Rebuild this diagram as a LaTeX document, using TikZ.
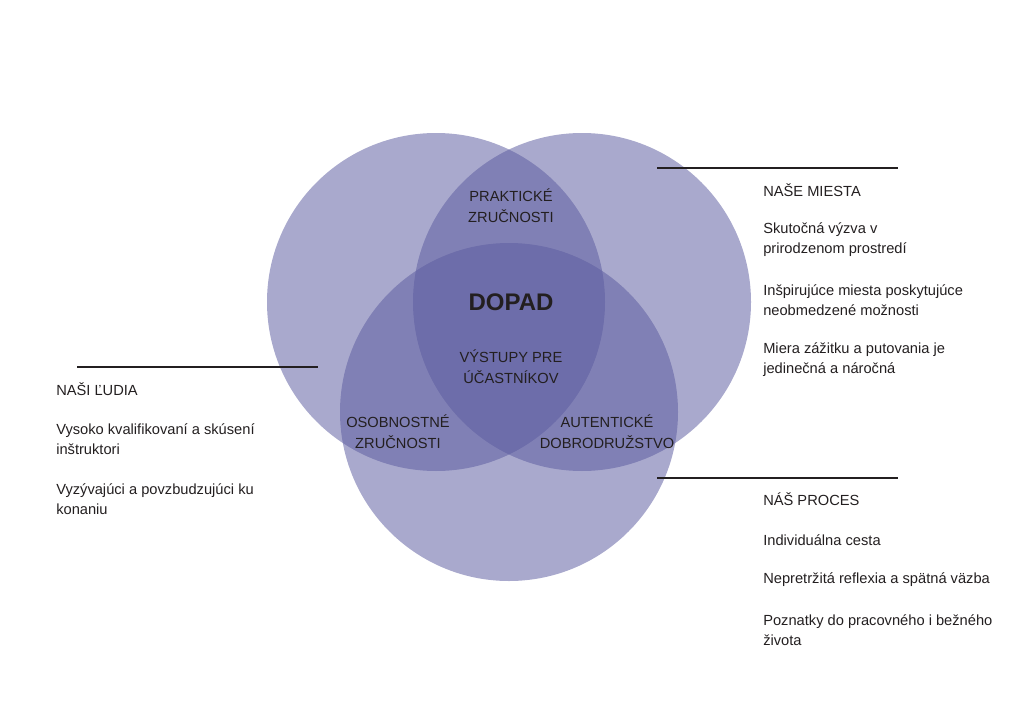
\documentclass[tikz,border=0pt]{standalone}
\usepackage{fontspec}
\setmainfont{Liberation Sans}
\usetikzlibrary{positioning}
\definecolor{vennfill}{RGB}{91,91,159}
\definecolor{inkgray}{RGB}{35,31,32}

\begin{document}
\begin{tikzpicture}[x=0.75pt,y=-0.75pt,
    venn/.style={fill=vennfill,fill opacity=0.52},
    inlabel/.style={align=center,font=\fontsize{11}{15.5}\selectfont,text=inkgray,inner sep=0pt},
    side/.style={anchor=west,align=left,font=\fontsize{11}{15}\selectfont,text=inkgray,inner sep=0pt},
    rule/.style={draw=inkgray,line width=0.8pt}]
  \useasboundingbox (0,0) rectangle (1024,724);
  % circles
  \fill[venn] (436,302) circle (169);
  \fill[venn] (582,302) circle (169);
  \fill[venn] (509,412) circle (169);
  % labels inside
  \node[inlabel] (prakt) at (511,206) {PRAKTICKÉ\\ZRUČNOSTI};
  \node[inlabel,font=\bfseries\fontsize{18}{22}\selectfont] (dopad) at (511,302) {DOPAD};
  \node[inlabel] (vystupy) at (511,367) {VÝSTUPY PRE\\ÚČASTNÍKOV};
  \node[inlabel] (osob) at (398,432) {OSOBNOSTNÉ\\ZRUČNOSTI};
  \node[inlabel] (auten) at (607,432) {AUTENTICKÉ\\DOBRODRUŽSTVO};
  % rules
  \coordinate (miestaA) at (657,168);
  \coordinate (miestaB) at (898,168);
  \coordinate (ludiaA) at (77,367);
  \coordinate (ludiaB) at (318,367);
  \coordinate (procesA) at (657,478);
  \coordinate (procesB) at (898,478);
  \draw[rule] (miestaA) -- (miestaB);
  \draw[rule] (ludiaA) -- (ludiaB);
  \draw[rule] (procesA) -- (procesB);
  % nase miesta
  \node[side] (miesta) at (763,190) {NAŠE MIESTA};
  \node[side] (miesta1) at (763,240) {Skutočná výzva v\\prirodzenom prostredí};
  \node[side] (miesta2) at (763,300) {Inšpirujúce miesta poskytujúce\\neobmedzené možnosti};
  \node[side] (miesta3) at (763,360) {Miera zážitku a putovania je\\jedinečná a náročná};
  % nasi ludia
  \node[side] (ludia) at (56,389) {NAŠI ĽUDIA};
  \node[side] (ludia1) at (56,439) {Vysoko kvalifikovaní a skúsení\\inštruktori};
  \node[side] (ludia2) at (56,499) {Vyzývajúci a povzbudzujúci ku\\konaniu};
  % nas proces
  \node[side] (proces) at (763,499) {NÁŠ PROCES};
  \node[side] (proces1) at (763,540) {Individuálna cesta};
  \node[side] (proces2) at (763,580) {Nepretržitá reflexia a spätná väzba};
  \node[side] (proces3) at (763,630) {Poznatky do pracovného i bežného\\života};
\end{tikzpicture}
\end{document}
